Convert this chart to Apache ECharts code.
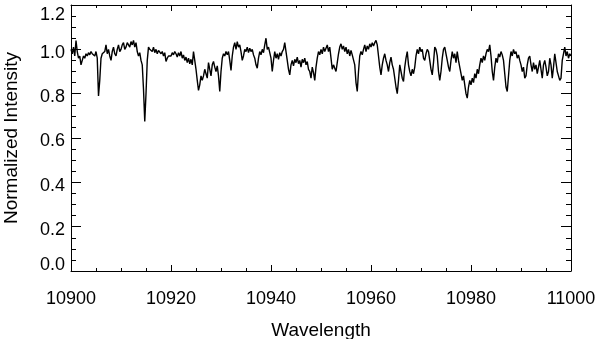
<!DOCTYPE html>
<html>
<head>
<meta charset="utf-8">
<script src="https://cdn.jsdelivr.net/npm/echarts@6/dist/echarts.min.js"></script>
<style>
html,body{margin:0;padding:0;background:#fff;}
#c{width:600px;height:339px;}
</style>
</head>
<body>
<div id="c"></div>
<script>
// Sampling grid of the spectrum (Angstrom)
const wavelengthStart = 10900;
const wavelengthStep = 0.25;
// Normalized intensity, one row per 5 Angstrom
const intensity = [
  1.00,0.98,1.01,0.97,1.04,0.99,0.96,0.97,0.93,0.95,0.97,0.96,0.98,0.97,0.985,0.975,0.99,0.98,0.985,0.97,
  0.99,0.96,0.79,0.86,0.96,0.98,0.975,0.99,1.02,0.98,1.00,0.97,0.95,0.99,1.01,0.98,0.97,1.00,1.02,0.99,
  1.00,1.02,1.03,1.00,1.01,1.03,1.02,1.01,1.035,1.02,1.04,1.01,1.03,0.99,0.97,0.985,0.95,0.93,0.82,0.675,
  0.80,0.95,1.01,1.00,1.005,0.99,1.01,0.985,1.00,0.98,0.995,1.00,0.98,0.99,0.97,0.985,0.945,0.96,0.97,0.975,
  0.97,0.985,0.975,0.99,0.98,0.965,0.985,0.97,0.99,0.96,0.975,0.95,0.965,0.94,0.96,0.935,0.955,0.93,0.99,0.95,
  0.91,0.86,0.815,0.84,0.88,0.86,0.88,0.91,0.89,0.87,0.94,0.91,0.88,0.93,0.945,0.92,0.90,0.925,0.88,0.81,
  0.90,0.96,0.98,0.97,0.99,0.975,0.99,0.95,0.905,0.97,1.01,1.03,1.00,1.035,1.01,1.02,0.99,0.95,0.97,1.00,
  0.99,1.01,0.985,1.005,0.99,1.00,0.975,0.96,0.93,0.915,0.96,0.99,0.975,1.00,0.985,1.02,1.05,1.00,1.01,0.985,
  0.96,0.90,0.95,0.99,0.96,0.98,0.955,0.985,0.97,0.99,1.00,1.03,0.99,0.95,0.91,0.885,0.93,0.95,0.925,0.955,
  0.94,0.965,0.935,0.95,0.92,0.955,0.94,0.96,0.93,0.945,0.91,0.90,0.87,0.92,0.895,0.86,0.92,0.96,0.99,0.975,
  1.00,0.98,1.01,0.99,1.005,1.02,0.99,1.01,0.96,0.91,0.93,0.915,0.90,0.94,0.98,1.01,1.025,1.00,1.015,0.99,
  1.01,0.98,1.00,0.97,0.995,0.975,0.98,0.93,0.85,0.81,0.90,0.97,0.99,0.975,1.00,1.02,0.99,1.015,1.00,1.025,
  1.01,1.03,1.015,1.03,1.04,1.02,0.97,0.92,0.885,0.93,0.96,0.98,0.95,0.93,0.90,0.94,0.965,0.93,0.91,0.87,
  0.83,0.80,0.86,0.93,0.90,0.87,0.855,0.92,0.96,0.99,0.93,0.90,0.88,0.91,0.89,0.92,0.97,1.00,0.98,1.01,
  0.99,1.00,0.96,0.95,0.98,1.00,0.99,0.95,0.91,0.885,0.94,1.01,1.00,0.97,0.90,0.86,0.90,0.96,1.00,1.01,
  0.98,0.95,0.92,0.90,0.95,0.99,0.96,0.98,0.94,0.99,0.95,0.92,0.89,0.86,0.88,0.84,0.80,0.78,0.83,0.86,
  0.84,0.87,0.85,0.89,0.87,0.91,0.89,0.93,0.96,0.94,0.97,0.95,0.98,1.00,0.99,1.02,0.97,0.90,0.86,0.92,
  0.96,0.94,0.98,0.965,0.99,0.975,0.95,0.89,0.83,0.81,0.88,0.95,0.99,0.97,1.00,0.98,0.99,0.96,0.975,0.95,
  0.93,0.90,0.92,0.87,0.88,0.93,0.96,0.97,0.93,0.90,0.94,0.91,0.93,0.89,0.92,0.95,0.91,0.87,0.93,0.95,
  0.92,0.88,0.90,0.96,0.93,0.87,0.92,0.98,0.94,0.90,0.88,0.86,0.87,0.95,0.98,1.01,0.97,0.99,0.96,0.98,
  0.97
];
// Axis ticks
const xTicks = [10900, 10920, 10940, 10960, 10980, 11000];
const yTicks = [0.0, 0.2, 0.4, 0.6, 0.8, 1.0, 1.2];

const points = intensity.map((v, i) => [wavelengthStart + i * wavelengthStep, v]);

const FONT = '"Liberation Sans", Arial, Helvetica, sans-serif';
const xMin = xTicks[0], xMax = xTicks[xTicks.length - 1];
const yMin = yTicks[0], yMax = yTicks[yTicks.length - 1];

function xAxisCfg(showLabel, pos) {
  return {
    type: 'value', position: pos, min: xMin, max: xMax, interval: 20,
    axisLine: { show: true, onZero: false, lineStyle: { color: '#000', width: 1 } },
    axisTick: { show: true, inside: true, length: 6, lineStyle: { color: '#000', width: 1 } },
    minorTick: { show: true, splitNumber: 4, length: 3, lineStyle: { color: '#000', width: 1 } },
    splitLine: { show: false },
    axisLabel: { show: showLabel, color: '#000', fontSize: 18, fontFamily: FONT, margin: 19,
      formatter: function (v) { return String(v); } },
    name: showLabel ? 'Wavelength' : '',
    nameLocation: 'middle', nameGap: 50,
    nameTextStyle: { color: '#000', fontSize: 19, fontFamily: FONT }
  };
}
function yAxisCfg(showLabel, pos) {
  return {
    type: 'value', position: pos, min: yMin, max: yMax, interval: 0.2,
    axisLine: { show: true, lineStyle: { color: '#000', width: 1 } },
    axisTick: { show: true, inside: true, length: 10, lineStyle: { color: '#000', width: 1 } },
    minorTick: { show: true, splitNumber: 4, length: 5, lineStyle: { color: '#000', width: 1 } },
    splitLine: { show: false },
    axisLabel: {
      show: showLabel, color: '#000', fontSize: 18, fontFamily: FONT, margin: 6,
      formatter: function (v) {
        const s = v.toFixed(1);
        if (Math.abs(v - yMax) < 1e-9) return '{t|' + s + '}';
        if (Math.abs(v - yMin) < 1e-9) return '{b|' + s + '}';
        return '{n|' + s + '}';
      },
      rich: {
        t: { fontSize: 18, fontFamily: FONT, color: '#000', padding: [21, 0, 0, 0] },
        b: { fontSize: 18, fontFamily: FONT, color: '#000', padding: [0, 0, 11, 0] },
        n: { fontSize: 18, fontFamily: FONT, color: '#000', padding: [7, 0, 0, 0] }
      }
    },
    name: showLabel ? 'Normalized Intensity' : '',
    nameLocation: 'middle', nameGap: 50,
    nameTextStyle: { color: '#000', fontSize: 19, fontFamily: FONT }
  };
}

const chart = echarts.init(document.getElementById('c'), null, { renderer: 'canvas' });
chart.setOption({
  animation: false,
  backgroundColor: '#fff',
  grid: { left: 71, right: 29, top: 5, bottom: 68, containLabel: false, outerBoundsMode: 'none' },
  xAxis: [xAxisCfg(true, 'bottom'), xAxisCfg(false, 'top')],
  yAxis: [yAxisCfg(true, 'left'), yAxisCfg(false, 'right')],
  series: [{
    type: 'line', xAxisIndex: 0, yAxisIndex: 0,
    data: points, showSymbol: false, symbol: 'none',
    lineStyle: { color: '#000', width: 1.4 },
    silent: true
  }]
});
</script>
</body>
</html>
